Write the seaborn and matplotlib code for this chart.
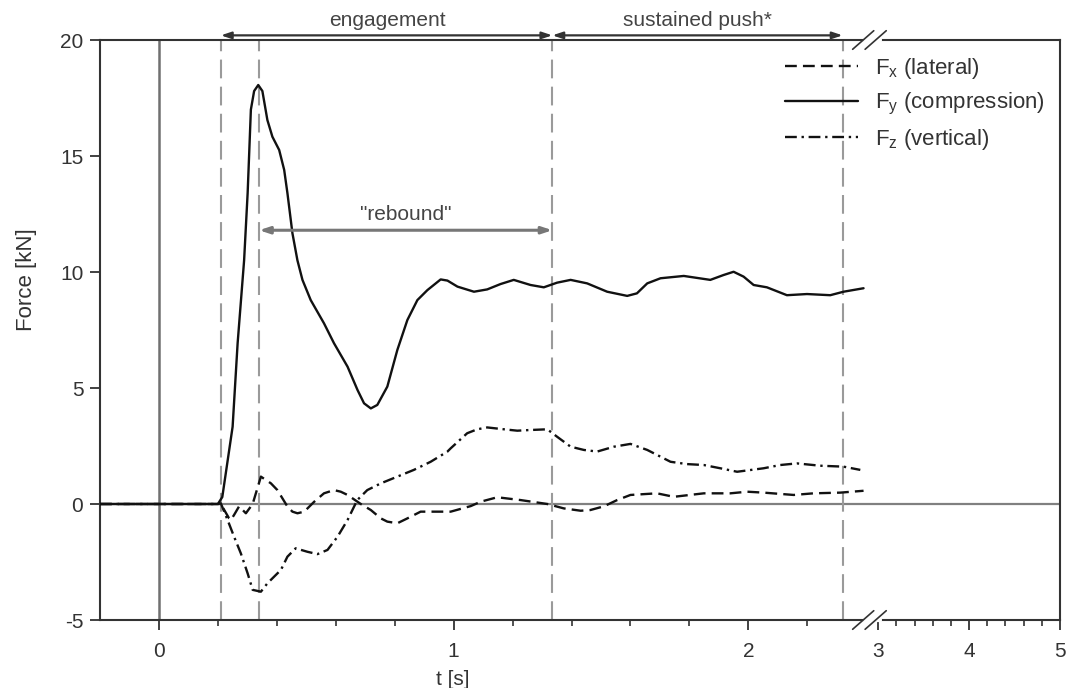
import numpy as np
import pandas as pd
import matplotlib
matplotlib.use("Agg")
import matplotlib.pyplot as plt
import seaborn as sns

# ---------------- data ----------------
t_fx = [-0.2, 0.0, 0.2, 0.21, 0.238, 0.244, 0.255, 0.272, 0.295, 0.318, 0.346, 0.38,
        0.402, 0.436, 0.453, 0.47, 0.493, 0.527, 0.56, 0.594, 0.617, 0.64, 0.685,
        0.719, 0.753, 0.775, 0.809, 0.843, 0.888, 0.99, 1.058, 1.092, 1.148, 1.227,
        1.318, 1.374, 1.431, 1.464, 1.51, 1.555, 1.6, 1.69, 1.747, 1.849, 1.939,
        1.996, 2.052, 2.154, 2.221, 2.312, 2.391]
f_x = [0, 0, 0, 0, -0.62, -0.69, -0.47, -0.1, -0.4, 0.0, 1.18, 0.89,
       0.6, -0.11, -0.33, -0.4, -0.33, 0.1, 0.46, 0.6, 0.53, 0.39, 0.0,
       -0.26, -0.62, -0.76, -0.83, -0.62, -0.33, -0.33, -0.09, 0.1, 0.29, 0.17,
       0.0, -0.19, -0.29, -0.26, -0.1, 0.17, 0.39, 0.46, 0.31, 0.46, 0.46,
       0.53, 0.49, 0.39, 0.46, 0.49, 0.57]

t_fy = [-0.2, 0.0, 0.2, 0.215, 0.25, 0.267, 0.289, 0.301, 0.312, 0.323, 0.337, 0.351,
        0.368, 0.385, 0.408, 0.425, 0.436, 0.453, 0.47, 0.487, 0.515, 0.56, 0.594,
        0.64, 0.674, 0.696, 0.719, 0.741, 0.775, 0.809, 0.843, 0.877, 0.911, 0.956,
        0.979, 1.013, 1.069, 1.114, 1.159, 1.204, 1.261, 1.306, 1.351, 1.397, 1.453,
        1.521, 1.589, 1.622, 1.657, 1.702, 1.781, 1.871, 1.916, 1.95, 1.984, 2.018,
        2.063, 2.131, 2.199, 2.278, 2.323, 2.391]
f_y = [0, 0, 0, 0.3, 3.33, 6.93, 10.5, 13.4, 17.0, 17.8, 18.06, 17.8,
       16.55, 15.83, 15.26, 14.4, 13.4, 11.67, 10.5, 9.66, 8.79, 7.79, 6.93,
       5.92, 4.91, 4.34, 4.12, 4.27, 5.06, 6.64, 7.93, 8.79, 9.22, 9.68,
       9.63, 9.37, 9.15, 9.25, 9.48, 9.66, 9.44, 9.34, 9.54, 9.66, 9.51,
       9.15, 8.97, 9.08, 9.51, 9.73, 9.83, 9.66, 9.87, 10.01, 9.8, 9.44,
       9.34, 9.0, 9.05, 9.0, 9.15, 9.3]

t_fz = [-0.2, 0.0, 0.2, 0.21, 0.233, 0.255, 0.278, 0.301, 0.318, 0.346, 0.368, 0.414,
        0.436, 0.464, 0.504, 0.538, 0.572, 0.606, 0.64, 0.673, 0.707, 0.753, 0.809,
        0.865, 0.922, 0.979, 0.99, 1.046, 1.08, 1.114, 1.171, 1.216, 1.261, 1.318,
        1.351, 1.397, 1.442, 1.487, 1.544, 1.6, 1.657, 1.736, 1.792, 1.849, 1.905,
        1.962, 2.052, 2.108, 2.165, 2.244, 2.323, 2.38]
f_z = [0, 0, 0, 0.03, -0.69, -1.41, -2.13, -2.99, -3.7, -3.78, -3.42, -2.84,
       -2.27, -1.91, -2.06, -2.16, -1.98, -1.41, -0.69, 0.17, 0.6, 0.89, 1.18,
       1.47, 1.82, 2.26, 2.4, 3.05, 3.22, 3.3, 3.22, 3.16, 3.19, 3.22,
       2.9, 2.47, 2.33, 2.26, 2.47, 2.59, 2.33, 1.82, 1.72, 1.68, 1.54,
       1.39, 1.54, 1.68, 1.75, 1.65, 1.61, 1.47]

labels = ["F$_\\mathregular{x}$ (lateral)", "F$_\\mathregular{y}$ (compression)",
          "F$_\\mathregular{z}$ (vertical)"]
phase_marks = [0.21, 0.34, 1.335, 2.32]
phase_names = ["engagement", "sustained push*", "\"rebound\""]
x_major = [0, 1, 2, 3, 4, 5]
y_ticks = [-5, 0, 5, 10, 15, 20]

# ---------------- style ----------------
sns.set_style("ticks")
plt.rcParams["font.family"] = ["Liberation Sans", "DejaVu Sans"]
plt.rcParams["mathtext.fontset"] = "custom"
plt.rcParams["mathtext.rm"] = "Liberation Sans"
plt.rcParams["mathtext.it"] = "Liberation Sans"
plt.rcParams["axes.unicode_minus"] = False
FS = 15

fig = plt.figure(figsize=(10.68, 6.88), dpi=100)
ax = fig.add_axes([100 / 1068, 68 / 688, 960 / 1068, 580 / 688])

# broken x scale: linear to 2.42, squeezed gap, then compressed 3..5
B1, S3, K2 = 2.42, (878 - 158) / 295, 91 / 295
K1 = (S3 - B1) / (3 - B1)


def fwd(x):
    x = np.asarray(x, dtype=float)
    return np.where(x <= B1, x,
                    np.where(x <= 3, B1 + (x - B1) * K1, S3 + (x - 3) * K2))


def inv(s):
    s = np.asarray(s, dtype=float)
    return np.where(s <= B1, s,
                    np.where(s <= S3, B1 + (s - B1) / K1, 3 + (s - S3) / K2))


# reference lines
ax.axhline(0, color="#808080", lw=1.6, zorder=1)
ax.axvline(0, color="#707070", lw=1.8, zorder=1)
for xm in phase_marks:
    ax.axvline(xm, color="#9a9a9a", lw=1.5, dashes=(9, 4), zorder=1)

black = "#111111"
sns.lineplot(x=t_fx, y=f_x, ax=ax, color=black, lw=1.7, estimator=None,
             sort=False, linestyle=(0, (5, 2.6)), label=labels[0], zorder=3)
sns.lineplot(x=t_fy, y=f_y, ax=ax, color=black, lw=1.7, estimator=None,
             sort=False, label=labels[1], zorder=3)
sns.lineplot(x=t_fz, y=f_z, ax=ax, color=black, lw=1.7, estimator=None,
             sort=False, linestyle=(0, (5, 2, 1, 2)), label=labels[2], zorder=3)

ax.set_xscale("function", functions=(fwd, inv))
ax.set_xlim(-0.2, 5)
ax.set_ylim(-5, 20)
ax.set_xticks(x_major)
ax.set_xticklabels([str(v) for v in x_major])
minor = [v for v in np.round(np.arange(0.2, 2.25, 0.2), 2) if v not in (1.0, 2.0)]
minor += [v for v in np.round(np.arange(3.2, 5.0, 0.2), 2) if abs(v - 4) > 1e-6]
ax.set_xticks(minor, minor=True)
ax.set_yticks(y_ticks)
ax.tick_params(axis="both", which="major", length=7, width=1.3, color="#333333",
               labelsize=FS, labelcolor="#333333", direction="out")
ax.tick_params(axis="x", which="major", pad=9)
ax.tick_params(axis="y", which="major", pad=5)
ax.tick_params(axis="x", which="minor", length=4, width=1.2, color="#333333",
               direction="out")

for sp in ax.spines.values():
    sp.set_color("#333333")
    sp.set_linewidth(1.5)

ax.set_xlabel("t [s]", fontsize=FS, color="#333333")
ax.xaxis.set_label_coords((453 - 100) / 960, -0.086)
ax.set_ylabel("Force [kN]", fontsize=FS + 1, color="#333333")
ax.yaxis.set_label_coords(-0.066, 0.586)

# axis break marks
for yb in (0, 1):
    ax.plot([0.797, 0.812], [yb, yb], transform=ax.transAxes, color="white",
            lw=3, clip_on=False, zorder=6)
    for x0 in (0.784, 0.797):
        ax.plot([x0, x0 + 0.022], [yb - 0.016, yb + 0.016], transform=ax.transAxes,
                color="#333333", lw=1.2, clip_on=False, zorder=7)

# phase arrows
arrow_kw = dict(arrowstyle="<|-|>,head_length=0.6,head_width=0.2", color="#333333",
                lw=1.6, shrinkA=0, shrinkB=0)
ax.annotate("", xy=(phase_marks[0], 20.2), xytext=(phase_marks[2], 20.2),
            arrowprops=arrow_kw, annotation_clip=False)
ax.annotate("", xy=(phase_marks[2], 20.2), xytext=(phase_marks[3], 20.2),
            arrowprops=arrow_kw, annotation_clip=False)
ax.annotate("", xy=(phase_marks[1], 11.8), xytext=(phase_marks[2], 11.8),
            arrowprops=dict(arrow_kw, color="#777777", lw=2.2))
ax.text(0.776, 20.45, phase_names[0], ha="center", va="bottom", fontsize=FS,
        color="#444444", clip_on=False)
ax.text(1.827, 20.45, phase_names[1], ha="center", va="bottom", fontsize=FS,
        color="#444444", clip_on=False)
ax.text(0.837, 12.05, phase_names[2], ha="center", va="bottom", fontsize=FS,
        color="#444444")

leg = ax.legend(loc="upper right", bbox_to_anchor=((1045 - 100) / 960, (620 - 56) / 580),
                frameon=False, fontsize=FS + 1, handlelength=3.3, handletextpad=0.75,
                labelspacing=0.45, borderpad=0, borderaxespad=0)
for txt in leg.get_texts():
    txt.set_color("#333333")

fig.savefig("out.png", dpi=100)
